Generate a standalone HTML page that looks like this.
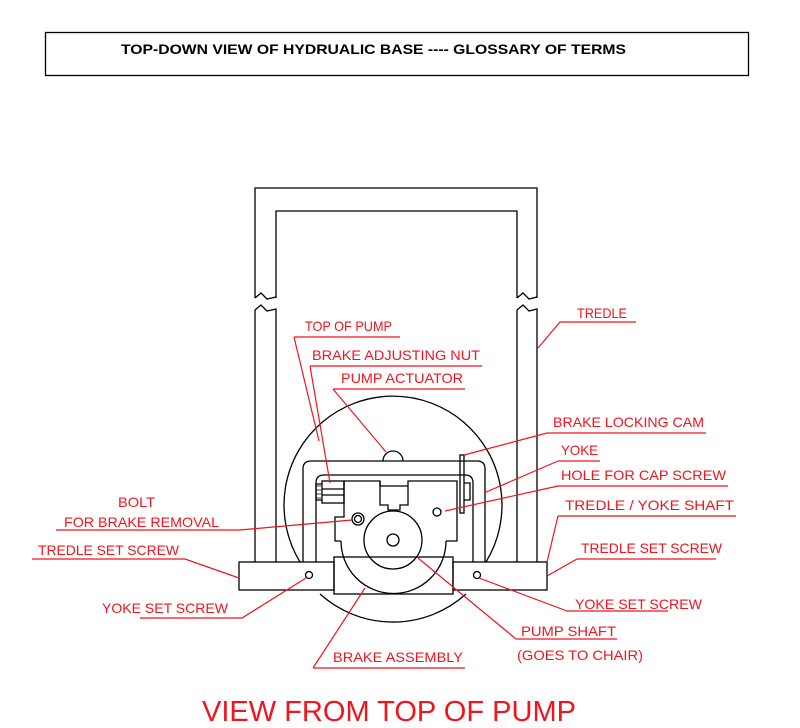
<!DOCTYPE html>
<html><head><meta charset="utf-8"><style>
html,body{margin:0;padding:0;background:#fff;width:800px;height:728px;overflow:hidden}
svg{display:block}
.l{font-family:"Liberation Sans",sans-serif;font-size:14px;fill:#f0141e}
</style></head><body>
<svg width="800" height="728" viewBox="0 0 800 728" xmlns="http://www.w3.org/2000/svg">
<rect x="45.5" y="32.5" width="703" height="43" fill="none" stroke="#000" stroke-width="1.3"/>
<text x="121" y="54" font-family="Liberation Sans,sans-serif" font-weight="bold" font-size="14" textLength="505" lengthAdjust="spacingAndGlyphs">TOP-DOWN VIEW OF HYDRUALIC BASE ---- GLOSSARY OF TERMS</text>
<g fill="none" stroke="#000" stroke-width="1.3">
<path d="M255,298 V188 H537 V298"/>
<path d="M276,298 V211 H517 V298"/>
<path d="M255,298 l6,-5 l6,6 l9,-2"/>
<path d="M517,298 l6,-5 l6,6 l8,-2"/>
<path d="M255,562 V310 l6,-5 l6,6 l9,-2 V562"/>
<path d="M517,562 V310 l6,-5 l6,6 l8,-2 V562"/>
<path d="M300,562 A109,109 0 1 1 486,562"/>
<path d="M320,594 A109,109 0 0 0 466,594"/>
<path d="M383,461 A10,10 0 0 1 403,461"/>
<path d="M303,562 V469 Q303,461 311,461 H477 Q485,461 485,469 V562"/>
<path d="M316,562 V483 Q316,475 324,475 H465 Q473,475 473,483 V562"/>
<rect x="239" y="562" width="95" height="28"/>
<rect x="453" y="562" width="94" height="28"/>
<rect x="334" y="557" width="119" height="37"/>
<path d="M344,481 H380 V505 H388 V510 H400 V505 H408 V481 H457 V541 H446"/>
<path d="M344,481 V517 H335 V541 H341"/>
<path d="M380,481 V486 H408"/>
<path d="M341,541 A52,52 0 0 0 446,541"/>
<circle cx="393" cy="540" r="29"/>
<circle cx="393" cy="540" r="6"/>
<rect x="322" y="481" width="22" height="22"/>
<path d="M322,489 H344 M322,495 H344"/>
<path d="M322,484 H316 V500 H322"/>
<path d="M316,486 h5 M316,490 h5 M316,494 h5 M316,498 h5" stroke-width="0.8"/>
<rect x="460" y="455" width="4" height="58"/>
<path d="M464,483 H470 V500 H464"/>
<circle cx="437" cy="512" r="4"/>
<circle cx="358" cy="519" r="6"/>
<circle cx="358" cy="519" r="3.5"/>
<circle cx="309" cy="575" r="3.5"/>
<circle cx="477" cy="575" r="3.5"/>
</g>
<g fill="none" stroke="#f0141e" stroke-width="1.2">
<path d="M294,337 H400 M294,337 L319,441"/>
<path d="M310,366 H482 M310,366 L330,483"/>
<path d="M333,389 H465 M333,389 L386,452"/>
<path d="M547,433 H706 M547,433 L464,455"/>
<path d="M558,461 H600 M558,461 L484,493"/>
<path d="M558,486 H728 M558,486 L445,511"/>
<path d="M558,516 H736 M558,516 L547,562"/>
<path d="M577,559 H716 M577,559 L547,576"/>
<path d="M567,611 H668 M567,611 L479,578"/>
<path d="M516,639 H617 M516,639 L418,558"/>
<path d="M313,668 H465 M313,668 L365,588"/>
<path d="M56,530 H240 L352,520"/>
<path d="M32,559 H185 L239,578"/>
<path d="M140,618 H242 L306,578"/>
<path d="M538,348 L560,322 H636"/>
</g>
<g class="l">
<text x="305" y="331" textLength="87" lengthAdjust="spacingAndGlyphs">TOP OF PUMP</text>
<text x="312" y="360" textLength="168" lengthAdjust="spacingAndGlyphs">BRAKE ADJUSTING NUT</text>
<text x="341" y="383" textLength="122" lengthAdjust="spacingAndGlyphs">PUMP ACTUATOR</text>
<text x="577" y="318" textLength="50" lengthAdjust="spacingAndGlyphs">TREDLE</text>
<text x="553" y="427" textLength="151" lengthAdjust="spacingAndGlyphs">BRAKE LOCKING CAM</text>
<text x="561" y="455" textLength="37" lengthAdjust="spacingAndGlyphs">YOKE</text>
<text x="561" y="480" textLength="165" lengthAdjust="spacingAndGlyphs">HOLE FOR CAP SCREW</text>
<text x="565" y="510" textLength="169" lengthAdjust="spacingAndGlyphs">TREDLE / YOKE SHAFT</text>
<text x="581" y="553" textLength="141" lengthAdjust="spacingAndGlyphs">TREDLE SET SCREW</text>
<text x="575" y="609" textLength="127" lengthAdjust="spacingAndGlyphs">YOKE SET SCREW</text>
<text x="521" y="636" textLength="95" lengthAdjust="spacingAndGlyphs">PUMP SHAFT</text>
<text x="517" y="660" textLength="126" lengthAdjust="spacingAndGlyphs">(GOES TO CHAIR)</text>
<text x="333" y="662" textLength="130" lengthAdjust="spacingAndGlyphs">BRAKE ASSEMBLY</text>
<text x="118" y="507" textLength="37" lengthAdjust="spacingAndGlyphs">BOLT</text>
<text x="64" y="527" textLength="155" lengthAdjust="spacingAndGlyphs">FOR BRAKE REMOVAL</text>
<text x="38" y="555" textLength="141" lengthAdjust="spacingAndGlyphs">TREDLE SET SCREW</text>
<text x="102" y="613" textLength="126" lengthAdjust="spacingAndGlyphs">YOKE SET SCREW</text>
<text x="202" y="721" font-size="29" textLength="374" lengthAdjust="spacingAndGlyphs">VIEW FROM TOP OF PUMP</text>
</g>
</svg>
</body></html>
